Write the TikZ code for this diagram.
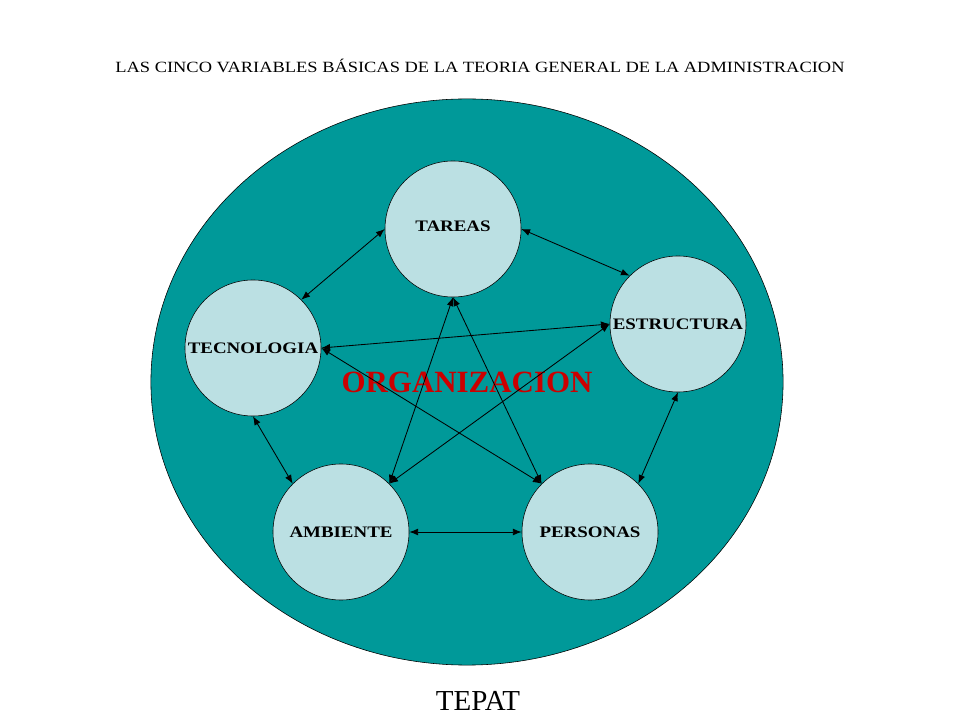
\documentclass[tikz,border=0pt]{standalone}
\usepackage{fontspec}
\setmainfont{Liberation Serif}
\newfontfamily\wideserif[FakeStretch=1.18]{Liberation Serif}
\usepackage{tikz}
\usetikzlibrary{shapes,arrows,arrows.meta,positioning}

\definecolor{tealorg}{RGB}{0,153,153}
\definecolor{lightvar}{RGB}{187,224,227}
\definecolor{redorg}{RGB}{204,0,0}

\begin{document}
\begin{tikzpicture}[
    x=0.025cm, y=-0.025cm,
    varcircle/.style={circle, draw, fill=lightvar, minimum size=3.4cm, inner sep=0pt, align=center, font=\wideserif\fontsize{11.4}{13}\selectfont\bfseries},
    link/.style={<->, >={Latex[length=2.2mm,width=1.7mm]}, line width=0.6pt}
]
\useasboundingbox (0,0) rectangle (960,720);

% Title
\node (title) at (480,66) {\wideserif\fontsize{11.1}{13}\selectfont LAS CINCO VARIABLES BÁSICAS DE LA TEORIA GENERAL DE LA ADMINISTRACION};

% Organization
\node[ellipse, draw, fill=tealorg, minimum width=15.8cm, minimum height=14.15cm, text=redorg, font=\fontsize{22}{24}\selectfont\bfseries] (org) at (467,382) {ORGANIZACION};

% Variables
\node[varcircle] (tareas) at (453,229) {\raisebox{4pt}{TAREAS}};
\node[varcircle] (tecnologia) at (253,348) {TECNOLOGIA};
\node[varcircle] (estructura) at (678,324) {ESTRUCTURA};
\node[varcircle] (ambiente) at (341,532) {AMBIENTE};
\node[varcircle] (personas) at (590,532) {PERSONAS};

% Footer
\node[anchor=base, inner sep=0pt, font=\fontsize{20.6}{24}\selectfont] (tepat) at (478,710) {TEPAT};

% Arrows
\draw[link] (tareas.west) -- (tecnologia.45);
\draw[link] (tareas.east) -- (estructura.135);
\draw[link] (tecnologia.south) -- (ambiente.135);
\draw[link] (estructura.south) -- (personas.45);
\draw[link] (ambiente.east) -- (personas.west);
\draw[link] (tecnologia.east) -- (estructura.west);
\draw[link] (tecnologia.east) -- (personas.135);
\draw[link] (tareas.south) -- (ambiente.45);
\draw[link] (tareas.south) -- (personas.135);
\draw[link] (estructura.west) -- (ambiente.45);

\end{tikzpicture}
\end{document}
